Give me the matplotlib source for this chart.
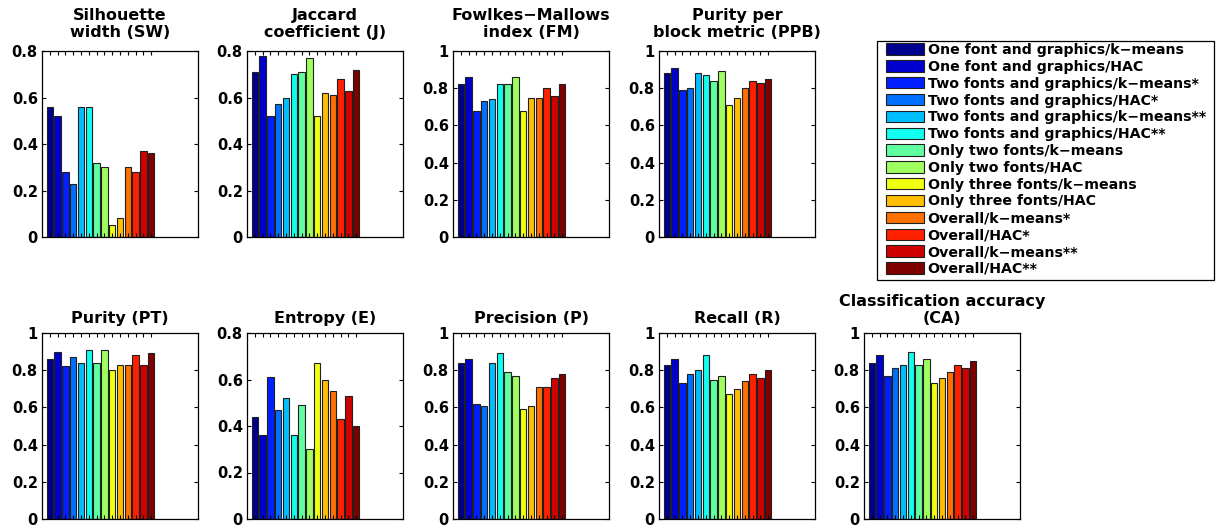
import numpy as np
import matplotlib
matplotlib.use('Agg')
import matplotlib.pyplot as plt
from matplotlib.patches import Patch, Rectangle
from matplotlib.ticker import FormatStrFormatter

plt.rcParams['font.family'] = 'DejaVu Sans'
plt.rcParams['font.weight'] = 'bold'

methods = ['One font and graphics/k\u2212means', 'One font and graphics/HAC',
           'Two fonts and graphics/k\u2212means*', 'Two fonts and graphics/HAC*',
           'Two fonts and graphics/k\u2212means**', 'Two fonts and graphics/HAC**',
           'Only two fonts/k\u2212means', 'Only two fonts/HAC',
           'Only three fonts/k\u2212means', 'Only three fonts/HAC',
           'Overall/k\u2212means*', 'Overall/HAC*', 'Overall/k\u2212means**', 'Overall/HAC**']

titles = ['Silhouette\nwidth (SW)', 'Jaccard\ncoefficient (J)', 'Fowlkes\u2212Mallows\nindex (FM)',
          'Purity per\nblock metric (PPB)', 'Purity (PT)', 'Entropy (E)', 'Precision (P)',
          'Recall (R)', 'Classification accuracy\n(CA)']

sw = [0.56, 0.52, 0.28, 0.23, 0.56, 0.56, 0.32, 0.30, 0.05, 0.08, 0.30, 0.28, 0.37, 0.36]
jc = [0.71, 0.78, 0.52, 0.57, 0.60, 0.70, 0.71, 0.77, 0.52, 0.62, 0.61, 0.68, 0.63, 0.72]
fm = [0.82, 0.86, 0.68, 0.73, 0.74, 0.82, 0.82, 0.86, 0.68, 0.75, 0.75, 0.80, 0.76, 0.82]
ppb = [0.88, 0.91, 0.79, 0.80, 0.88, 0.87, 0.84, 0.89, 0.71, 0.75, 0.80, 0.84, 0.83, 0.85]
pt = [0.86, 0.90, 0.82, 0.87, 0.84, 0.91, 0.84, 0.91, 0.80, 0.83, 0.83, 0.88, 0.83, 0.89]
ent = [0.44, 0.36, 0.61, 0.47, 0.52, 0.36, 0.49, 0.30, 0.67, 0.60, 0.55, 0.43, 0.53, 0.40]
prec = [0.84, 0.86, 0.62, 0.61, 0.84, 0.89, 0.79, 0.77, 0.59, 0.61, 0.71, 0.71, 0.76, 0.78]
rec = [0.83, 0.86, 0.73, 0.78, 0.80, 0.88, 0.75, 0.77, 0.67, 0.70, 0.74, 0.78, 0.76, 0.80]
ca = [0.84, 0.88, 0.77, 0.81, 0.83, 0.90, 0.83, 0.86, 0.73, 0.76, 0.79, 0.83, 0.81, 0.85]

series = [sw, jc, fm, ppb, pt, ent, prec, rec, ca]
ymax = [0.8, 0.8, 1, 1, 1, 0.8, 1, 1, 1]


def matlab_jet(m=64):
    # same recipe as MATLAB's jet(m)
    n = int(np.ceil(m / 4))
    u = np.concatenate([np.arange(1, n + 1) / n, np.ones(n - 1), np.arange(n, 0, -1) / n])
    g = int(np.ceil(n / 2)) - (m % 4 == 1) + np.arange(1, len(u) + 1)
    r = g + n
    b = g - n
    cmap = np.zeros((m, 3))
    for col, idx in ((0, r), (1, g), (2, b)):
        ok = (idx >= 1) & (idx <= m)
        cmap[idx[ok] - 1, col] = u[ok]
    return cmap


jet64 = matlab_jet(64)
k = len(methods)
colors = jet64[np.fix(np.arange(k) * 63 / (k - 1)).astype(int)]

W, H = 1218, 529
fig = plt.figure(figsize=(W / 100, H / 100), dpi=100)
x = np.arange(1, k + 1)

# axes boxes in pixels
lefts = [42, 247, 453, 659, 42, 247, 453, 659, 864]
tops = [51, 51, 51, 51, 333, 333, 333, 333, 333]

for i, vals in enumerate(series):
    ax = fig.add_axes([lefts[i] / W, 1 - (tops[i] + 186) / H, 156 / W, 186 / H])
    ax.bar(x, vals, width=0.82, color=colors, edgecolor='#202020', linewidth=0.8)
    ax.set_xlim(0, 20)
    ax.set_ylim(0, ymax[i])
    ax.set_xticks(x)
    ax.set_xticklabels([])
    ax.set_yticks(np.arange(0, ymax[i] + 0.01, 0.2))
    ax.yaxis.set_major_formatter(FormatStrFormatter('%g'))
    ax.tick_params(direction='in', top=True, right=True, length=3, width=0.8,
                   labelsize=10.5, pad=3)
    for lab in ax.get_yticklabels():
        lab.set_fontweight('bold')
    for s in ax.spines.values():
        s.set_linewidth(0.9)
    ax.set_title(titles[i], fontsize=11.5, fontweight='bold', pad=10 if i < 4 else 7,
                 linespacing=1.15)

# legend frame drawn separately so the padding can match
fig.patches.append(Rectangle((877 / W, 1 - 280 / H), (1214 - 877) / W, (280 - 41) / H,
                             transform=fig.transFigure, fill=False, edgecolor='black',
                             linewidth=0.9))
handles = [Patch(facecolor=c, edgecolor='#202020', linewidth=0.8) for c in colors]
leg = fig.legend(handles, methods, loc='upper left', bbox_to_anchor=(886 / W, 1 - 43 / H),
                 handlelength=2.68, handleheight=0.85, handletextpad=0.25,
                 labelspacing=0.2, borderpad=0, borderaxespad=0, frameon=False,
                 prop={'weight': 'bold', 'size': 10.2})

fig.savefig('out.png', dpi=100)
